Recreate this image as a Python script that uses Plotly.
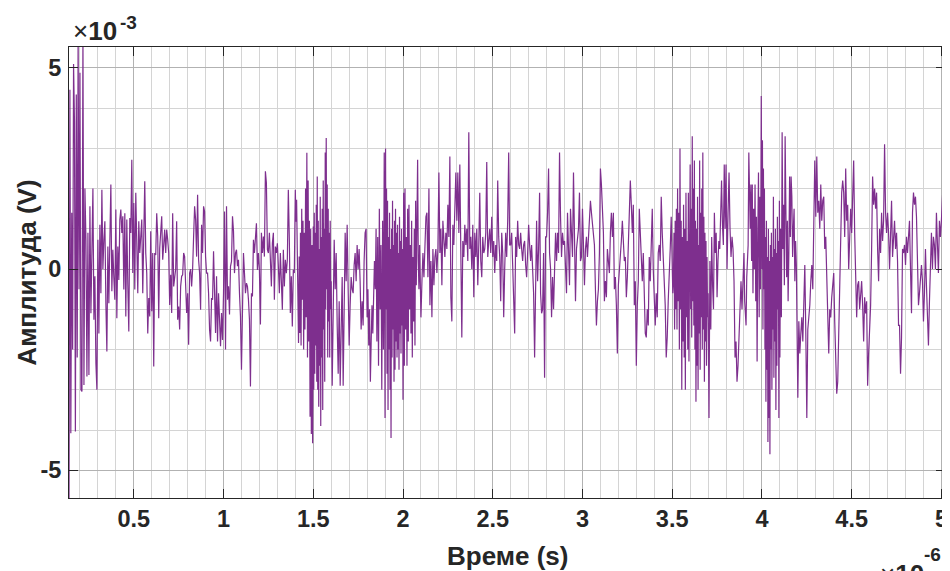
import numpy as np
import plotly.graph_objects as go

# Time bin edges (in microseconds, i.e. x 1e-6 s)
bin_edges_us = [0.139] + [round(0.1 * k, 1) for k in range(2, 51)] + [5.02]

# Amplitude readings per 0.1 us bin (in millivolts, i.e. x 1e-3 V)
amp_mV_bins = [
    [-6.0, 4.46, -4.08, 1.4, -2.0, 5.1, 3.67, -4.04, 4.34, -2.2, 5.8, -0.5],                          # 0.139-0.2
    [4.88, -3.0, -3.04, 5.8, -2.88, 2.0, 0.73, -2.67, 0.9, -2.63, 1.56, -1.1, 0.44, 2.0, -1.26, -0.18, -2.34, -3.0],  # 0.2
    [0.73, -1.6, 1.1, -0.6, 1.97, 0.0, 0.73, 1.19, -0.85, -2.05, 0.56, -0.85, 0.73, 2.1, -0.55, 0.48, -0.22, -0.76],  # 0.3
    [1.48, -1.22, 0.56, -0.27, 1.23, 1.48, 0.9, 1.31, -0.51, 1.39, -1.18, 1.23, -0.39, -1.55, 1.27, 0.9, 2.72, -0.1],  # 0.4
    [1.64, -0.51, 1.9, 0.4, -0.6, 1.19, 0.4, 0.81, 1.23, -0.6, 0.94, 2.18, 0.4, -0.1, -1.6, -0.72, -1.18, 0.94],  # 0.5
    [-1.05, 0.4, -2.42, 0.4, 0.35, 1.39, 0.81, -1.22, 0.52, 0.98, 1.31, 0.23, 0.52, 0.98, 0.4, 0.98, 0.73, 0.4],  # 0.6
    [-0.89, -0.14, -1.09, 1.39, -0.43, -0.1, 0.0, 1.19, -1.26, -0.93, -1.5, -0.43, -0.18, -0.14, 0.4, 0.31, -0.43, -1.09],  # 0.7
    [-0.6, -1.88, -0.1, 0.0, -0.43, 0.0, 0.81, 1.56, 1.23, 0.31, 1.85, 0.23, -0.1, -1.01, 1.10, 0.4, 1.56, 1.43],  # 0.8
    [0.31, -0.1, -0.1, -0.6, -1.51, -1.8, -0.72, -0.76, 0.44, -0.68, -1.59, -0.18, -1.8, -0.6, -1.59, -1.92, -1.09, -1.76],  # 0.9
    [-0.6, 1.43, -2.0, 1.56, -0.76, -0.43, -1.13, 0.07, 0.19, 1.31, 0.94, -0.1, 0.4, 0.48, 0.07, 0.23, -0.6, -1.18],  # 1.0
    [-2.5, -0.6, 0.4, -0.1, -0.6, -0.35, -0.43, -0.76, -1.26, -2.92, -0.6, -0.68, 0.73, 0.4, 0.9, 1.14, -0.02, 0.4],  # 1.1
    [-0.02, -1.38, 0.9, 0.4, 0.81, 0.31, 2.43, 2.14, 0.48, 0.4, 0.9, 0.31, -0.43, 0.64, 0.9, -0.76, 0.56, 0.4],  # 1.2
    [0.64, 0.07, -0.6, 0.4, -0.35, -1.01, 0.48, -0.43, 0.23, -0.1, 0.23, 1.97, 0.73, -1.09, -0.18, -1.43, -0.02, -0.1],  # 1.3
    [1.97, 1.18, 1.72, 0.73, -0.93, -1.84, 0.31, -1.59, 0.9, -1.9, 1.5, -0.76, 1.2, -2.0, 0.9, -1.5, 2.0, -1.2,
     2.89, -2.2, 2.2, -1.8, 1.2, -3.67, 1.0, -4.1, 0.6, -4.33],  # 1.4
    [1.06, -3.0, 1.4, -2.6, 0.9, -1.9, 1.6, -2.8, 2.3, -3.0, 1.2, -3.42, 0.5, -2.4, 1.8, -3.9, 0.8, -2.2,
     1.5, -3.5, 2.2, -1.5, 1.0, -2.8, 2.9, -1.0, 3.26, -0.5, 2.1, -2.2, 1.5, -1.3, 0.9, -2.2, 1.2, -1.0],  # 1.5
    [-0.3, -2.9, -1.2, 0.73, -0.5, 0.4, -1.4, -2.6, -0.8, -2.9, -1.5, -0.2, -2.9, -0.9, 0.9, -0.3, 1.1, -0.5],  # 1.6
    [-1.9, -0.9, -0.2, -0.5, -0.6, 0.1, 0.4, -0.3, 0.6, 0.0, 0.5, -0.3, -1.5, -0.8, -1.4, 0.2, 0.9, 1.0],  # 1.7
    [-1.2, -0.5, -1.9, -1.0, -2.8, -1.8, -0.9, -1.6, -0.1, 0.2, -0.5, 1.0, -1.8, 0.8, -2.4, 1.5, -1.0, 0.6,
     -3.0, 1.2, -2.0, 2.9],  # 1.8
    [-3.7, 3.0, -1.0, 2.0, -2.6, 1.7, -3.5, 0.8, -2.0, 1.4, -3.0, 0.5, -4.2, 1.0, -2.2, 1.7, -1.5, 0.6,
     -2.8, 1.2, -2.5, 1.5, -1.8, 0.9, -2.2, 1.1, -2.0, 0.4, -2.5, 1.3, -1.6, 0.7, -2.1, 1.0, -1.4, 0.5],  # 1.9
    [-3.25, 1.9, -2.4, 2.0, -1.5, 0.8, -2.4, 1.5, -1.8, 1.6, -1.0, 0.6, -1.6, 1.2, -2.2, 0.3, -1.3, 1.0,
     -1.9, 1.7, -0.4, 0.9, 2.72, 0.2, -0.5, 0.6, -1.2],  # 2.0
    [-1.2, -0.3, 0.4, -0.2, 0.7, 1.3, 1.4, -0.2, 2.0, -0.9, 0.2, -1.2, 0.5, -0.4, 0.3, 0.5, -0.1, 0.5],  # 2.1
    [2.4, 0.4, 1.0, -0.4, 1.2, 0.6, 0.3, 0.9, 0.5, 1.6, 0.8, 2.8, -0.7, -1.3, 1.1, 0.6, 1.5, 2.4],  # 2.2
    [1.2, 2.4, 0.9, 2.6, 0.4, -1.7, 0.7, 0.3, 1.1, 0.6, 1.0, 0.2, 3.4, 0.5, 0.8, 0.0, 1.1, -0.7],  # 2.3
    [0.9, 0.3, 1.0, -0.4, 0.6, 1.9, 0.2, -0.2, 0.8, 0.4, 0.5, 0.9, 2.66, 0.3, 0.7, 1.0, 0.4, 1.3],  # 2.4
    [0.3, 0.7, -0.1, 0.6, 0.2, 2.2, 0.8, 0.3, -0.8, 0.9, 0.4, -1.2, 0.0, 0.9, 0.3, 1.2, 2.9, 0.6],  # 2.5
    [0.6, 0.9, 0.1, -0.8, -1.6, 0.8, 0.3, 1.2, 0.6, 0.5, 0.9, 0.5, 0.2, 0.6, 0.7, 0.1, -0.2, 0.4],  # 2.6
    [1.1, 0.6, 0.2, 0.6, 0.0, -0.6, -2.2, -0.3, 1.2, -0.3, 0.5, 1.9, -0.6, -1.1, -1.0, 0.4, -2.7, 0.8],  # 2.7
    [0.8, 1.4, 2.5, 0.4, 0.0, -1.2, -0.2, -1.0, 0.5, 0.9, 0.2, 0.9, 0.4, 2.9, 1.3, 0.3, 0.9, 0.6],  # 2.8
    [0.7, 0.2, -0.6, 1.4, 0.5, -0.4, 1.5, 0.8, 0.3, 2.4, 0.6, -0.8, 0.5, 0.7, 1.0, 1.9, 0.2, 0.3],  # 2.9
    [1.5, 0.6, -0.4, 0.5, 0.8, 0.3, 0.9, 1.2, 1.7, 1.4, 1.1, 0.8, 0.6, -0.5, -1.4, -0.8, -0.5, 0.4],  # 3.0
    [2.5, 2.1, 1.2, 0.9, -0.8, -0.3, -0.7, 0.5, 0.2, -0.1, 0.9, 1.4, 0.8, 1.4, -0.5, -0.2, -0.9, -2.1],  # 3.1
    [-0.4, -0.1, 0.2, 0.7, 1.2, 0.5, 0.2, 0.3, -0.7, -0.2, 0.6, 1.4, 2.2, 1.6, 0.9, 1.6, -0.9, -0.3],  # 3.2
    [-2.4, -0.9, -0.3, 1.5, 0.9, 0.6, -0.3, 0.4, -0.5, -1.6, -1.7, -1.0, -1.4, 0.3, -0.3, 0.6, 1.5, 0.0],  # 3.3
    [-0.7, -1.4, -0.6, -1.2, 0.4, 0.6, 0.2, 1.8, 0.9, 0.2, -0.2, -0.9, -2.2, -1.7, -0.8, -0.3, 0.5, 1.3],  # 3.4
    [0.0, -0.6, -0.3, 0.9, -1.5, 1.2, -1.0, 1.5, -1.5, 2.0, -0.8, 1.4, -2.0, 3.0, -1.0, 1.2, -3.0, 0.8,
     -1.8, 1.6, -2.2, 1.0, -3.0, 1.9, -1.2, 0.7, -2.0, 1.9, -2.3, 1.0],  # 3.5
    [2.6, -1.0, 1.5, -1.7, 3.3, -0.8, 2.0, -1.4, 2.7, -2.0, 1.2, -3.3, 1.0, -2.4, 1.8, -3.0, 0.6, -1.6,
     2.7, -2.5, 1.4, -1.2, 2.0, -2.0, 2.9, -1.5, 1.3, -2.8, 0.9, -1.8, 0.7, -2.4, 0.3, -1.2],  # 3.6
    [-0.6, -3.7, 0.2, -1.5, 0.8, -0.4, -1.0, 1.4, 0.4, 0.9, -0.7, 0.2, 0.7, 0.5, 1.2, 2.2, 1.1, 0.6, 2.6, 1.0],  # 3.7
    [2.6, 0.0, 1.4, 2.4, 1.0, 0.3, 0.8, 0.5, -0.3, -2.2, -1.8, -2.8, -2.4, -1.7, -0.9, -0.3, -1.0, -0.4],  # 3.8
    [0.4, -0.8, -1.3, -1.4, -0.2, 0.4, 0.6, 2.9, 1.9, 1.0, 2.1, 0.2, 2.1, -0.6, 1.5, 0.0, 2.1, -0.8,
     1.3, -2.3, 0.9, 2.4, -1.2, 1.8, -0.5, 4.3],  # 3.9
    [0.0, 3.2, -1.5, 2.5, -0.5, 2.0, -2.0, 0.8, -3.3, 1.2, -2.5, 0.3, -4.3, 1.0, -3.7, 0.2, -4.6, 0.6,
     -2.0, 0.9, -3.0, 0.3, -1.5, 1.8, -2.7, 0.5, -1.8, 1.0, -3.5, 0.4, -2.4, 1.3, -1.0, 0.7, -3.7, 1.7],  # 4.0
    [-2.2, 1.0, -1.2, 3.4, 0.5, 1.6, -0.4, 3.3, 0.6, -0.2, 1.2, -0.8, 0.4, 2.3, 0.8, 2.3, 1.8, 0.3,
     1.0, 1.5, -0.3, 0.7, 0.1, -1.1],  # 4.1
    [-3.2, -1.3, -2.1, -1.6, -1.2, -1.8, -0.9, 0.1, -1.6, -3.7, -1.5, -1.2, -0.9, -0.3, 0.1, -0.5, 1.0, 2.7],  # 4.2
    [1.3, 2.8, 1.4, 1.7, 1.0, 2.1, 1.2, 1.7, 1.8, 0.5, 0.8, -0.3, -1.5, -2.1, -1.0, -1.2, -0.7, -0.4],  # 4.3
    [-0.1, -1.3, -2.3, -3.1, -2.8, -1.6, -0.8, 0.8, 1.9, 2.2, 1.9, 0.8, 2.5, 1.2, 1.6, 0.0, 0.8, 1.5],  # 4.4
    [0.9, 1.9, 2.7, 0.9, -0.4, -1.2, -0.4, -0.3, -1.0, -0.6, -0.3, -0.9, -1.8, -0.7, -1.1, -0.8, -2.9, -2.1],  # 4.5
    [-1.6, -0.9, 0.5, 2.3, 1.6, 2.0, 1.5, 1.9, 0.5, -0.3, 1.0, 0.4, 1.4, 0.7, 1.2, 3.1, 1.4, 0.9],  # 4.6
    [1.4, 0.9, 0.0, 0.9, 1.7, 0.3, 0.8, 1.2, 0.5, 0.9, 0.2, -1.4, -1.4, -2.6, -1.7, 0.5, 0.4, 0.6],  # 4.7
    [0.1, 0.8, 0.4, 0.9, 1.2, 0.0, -1.1, 1.4, 1.9, 1.6, 1.8, 1.3, 0.1, -0.9, -0.6, -0.3, 0.1, -0.3],  # 4.8
    [-1.3, -0.6, 0.5, -0.4, -1.1, -1.9, -0.8, 0.1, 0.9, 0.0, 0.8, 0.6, 0.0, 1.4, 0.7, -0.1, 1.2, 0.8],  # 4.9
    [1.2, 1.8, 2.2, 1.8],  # 5.0-5.02
]

x_tick_vals = [0.5, 1, 1.5, 2, 2.5, 3, 3.5, 4, 4.5, 5]
x_tick_text = ["0.5", "1", "1.5", "2", "2.5", "3", "3.5", "4", "4.5", "5"]
y_tick_vals = [-5, 0, 5]
y_tick_text = ["-5", "0", "5"]

x_label = "Време (s)"
y_label = "Амплитуда (V)"
x_exponent = "-6"
y_exponent = "-3"

# Build the sampled time base from the bins
t_list, v_list = [], []
for i, vals in enumerate(amp_mV_bins):
    a, b = bin_edges_us[i], bin_edges_us[i + 1]
    n = len(vals)
    for j, v in enumerate(vals):
        t_list.append(a + (b - a) * j / n)
        v_list.append(v)

FONT = "Liberation Sans, Arial, Helvetica, sans-serif"
TXT = "#262626"
TICK_SIZE = 23.5
LABEL_SIZE = 26
SUP_SIZE = 19

fig = go.Figure()
fig.add_trace(go.Scatter(
    x=t_list, y=v_list, mode="lines",
    line=dict(color="#7E2F8E", width=1.2),
    hoverinfo="skip", showlegend=False,
))

axis_common = dict(
    showline=True, linecolor=TXT, linewidth=1, mirror="ticks",
    ticks="inside", ticklen=9, tickwidth=1, tickcolor=TXT,
    showgrid=True, gridcolor="rgb(178,178,178)", gridwidth=1,
    zeroline=False, ticklabeloverflow="allow",
    tickfont=dict(family=FONT, size=TICK_SIZE, color=TXT, weight="bold"),
)

fig.update_xaxes(
    range=[0.139, 5.02], tickmode="array", tickvals=x_tick_vals, ticktext=x_tick_text,
    minor=dict(showgrid=True, gridcolor="rgb(212,212,212)", gridwidth=1, dtick=0.1, tick0=0, ticks=""),
    **axis_common,
)
fig.update_yaxes(
    range=[-5.69, 5.52], tickmode="array", tickvals=y_tick_vals, ticktext=y_tick_text,
    minor=dict(showgrid=True, gridcolor="rgb(212,212,212)", gridwidth=1, dtick=1, tick0=0, ticks=""),
    ticklabelstandoff=2,
    **axis_common,
)

# The page places the figure 8 px from the window's top-left corner,
# so the figure is sized to end exactly at the window edges.
OFF = 8
W, H = 950 - OFF, 571 - OFF
ML, MR, MT, MB = 69 - OFF, 950 - 948, 47 - OFF, 571 - 498
pw, ph = W - ML - MR, H - MT - MB

def px(x):  # window pixel -> paper x
    return (x - OFF - ML) / pw

def py(y):  # window pixel -> paper y
    return (H - MB - (y - OFF)) / ph

def note(text, x, y, size, xanchor="left", angle=0):
    return dict(text=text, x=px(x), y=py(y), xref="paper", yref="paper",
                xanchor=xanchor, yanchor="middle", textangle=angle, showarrow=False,
                font=dict(family=FONT, size=size, color=TXT))

annotations = [
    note(f"<b>{x_label}</b>", 508.5, 556, LABEL_SIZE, xanchor="center"),
    note(f"<b>{y_label}</b>", 26, 272.5, LABEL_SIZE, xanchor="center", angle=-90),
    note("×<b>10</b>", 71, 31, LABEL_SIZE),
    note(f"<b>{y_exponent}</b>", 118, 22, SUP_SIZE),
    note("×<b>10</b>", 881, 574, LABEL_SIZE),
    note(f"<b>{x_exponent}</b>", 925, 554, SUP_SIZE),
]

fig.update_layout(
    width=W, height=H,
    margin=dict(l=ML, r=MR, t=MT, b=MB, pad=0),
    paper_bgcolor="white", plot_bgcolor="white",
    annotations=annotations,
    font=dict(family=FONT, color=TXT),
)

# The container is kept OFF px shorter than the figure so that the page
# (with its default body margins) is exactly 950x571 and shows no scrollbar.
fig.write_html("out.html", default_width=f"{W}px", default_height=f"{H - OFF}px",
               post_script="document.documentElement.style.overflow='hidden';"
                           "document.body.style.overflow='hidden';")
